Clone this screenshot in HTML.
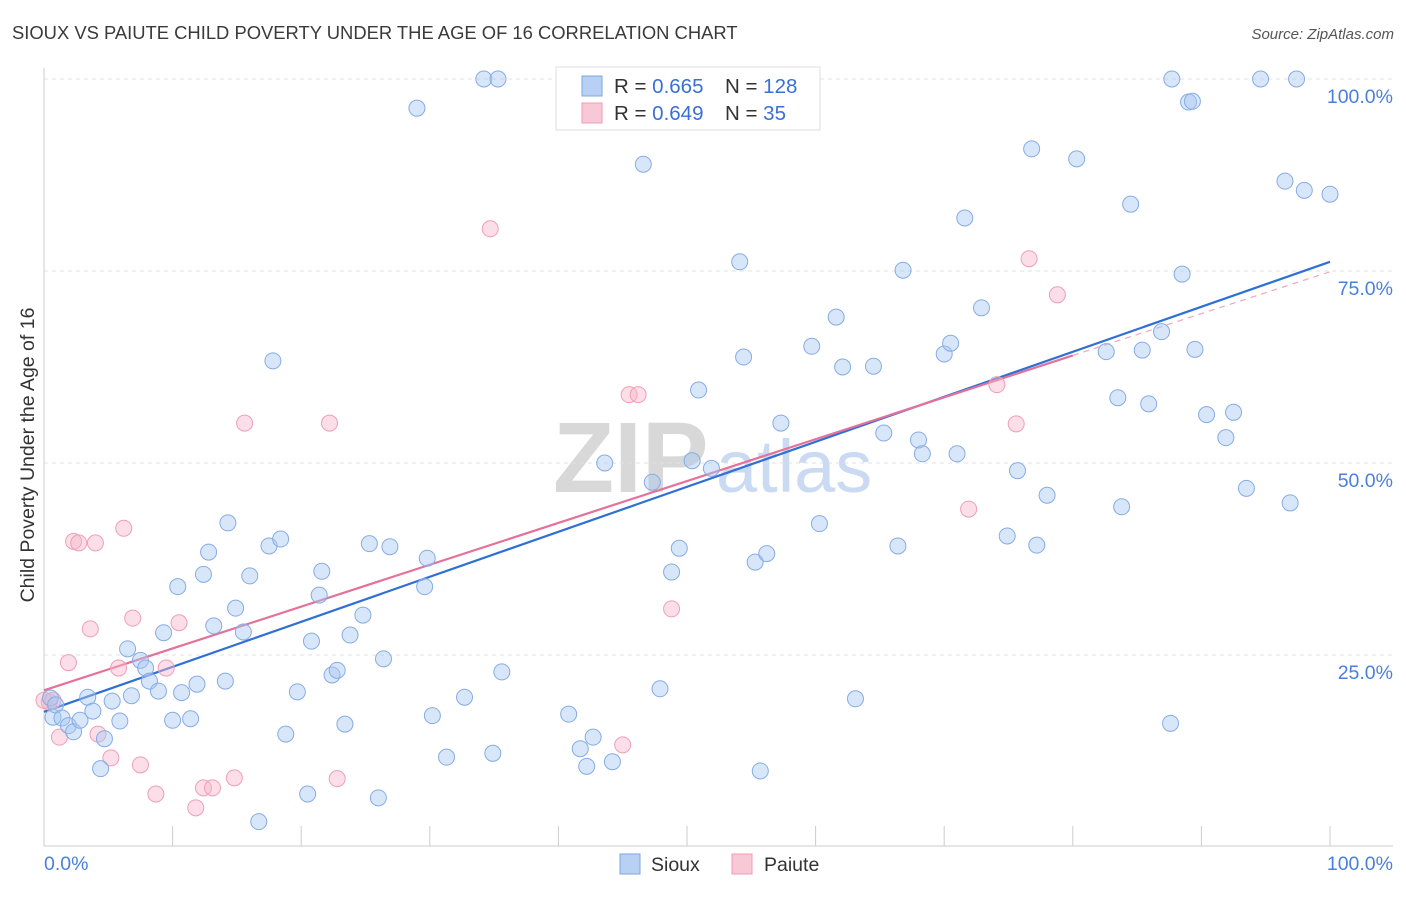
<!DOCTYPE html>
<html><head><meta charset="utf-8"><style>
body{margin:0;background:#fff;font-family:"Liberation Sans",sans-serif;}
svg text{font-family:"Liberation Sans",sans-serif;}
</style></head><body>
<svg id="c" width="1406" height="892" xmlns="http://www.w3.org/2000/svg">
<text x="12" y="39" font-size="18.4" fill="#3a3a3a">SIOUX VS PAIUTE CHILD POVERTY UNDER THE AGE OF 16 CORRELATION CHART</text>
<text x="1394" y="39" font-size="15" fill="#555" text-anchor="end" font-style="italic">Source: ZipAtlas.com</text>
<g>
<text x="553" y="492" font-size="100" font-family="Liberation Serif, serif" fill="#d8d8d8" font-weight="bold">ZIP</text>
<text x="716" y="492" font-size="74" fill="#c9daf2">atlas</text>
</g>
<g id="grid"></g>
<g id="axes"></g>
<g id="lines"></g>
<g id="pts"></g>
<text transform="translate(34,455) rotate(-90)" font-size="19.5" fill="#333" text-anchor="middle">Child Poverty Under the Age of 16</text>
<g>
<rect x="556" y="67" width="264" height="63" fill="#fff" stroke="#ddd"/>
<rect x="582" y="76" width="20" height="20" fill="#b8d0f4" stroke="#7fa6e0"/>
<rect x="582" y="103" width="20" height="20" fill="#f9c8d6" stroke="#ee9bb4"/>
<text x="614" y="93" font-size="20.5" fill="#333">R = <tspan fill="#3a6fd8">0.665</tspan></text>
<text x="725" y="93" font-size="20.5" fill="#333">N = <tspan fill="#3a6fd8">128</tspan></text>
<text x="614" y="120" font-size="20.5" fill="#333">R = <tspan fill="#3a6fd8">0.649</tspan></text>
<text x="725" y="120" font-size="20.5" fill="#333">N = <tspan fill="#3a6fd8"> 35</tspan></text>
</g>
<g>
<rect x="620" y="854" width="20" height="20" fill="#b8d0f4" stroke="#7fa6e0"/>
<text x="651" y="871" font-size="19.5" fill="#333">Sioux</text>
<rect x="732" y="854" width="20" height="20" fill="#f9c8d6" stroke="#ee9bb4"/>
<text x="764" y="871" font-size="19.5" fill="#333">Paiute</text>
</g>
</svg>
<script>
const siouxX=[0.5,0.7,0.9,1.4,1.9,2.3,2.8,3.4,3.8,4.4,4.7,5.3,5.9,6.5,6.8,7.5,7.9,8.2,8.9,9.3,10.0,10.4,10.7,11.4,11.9,12.4,12.8,13.2,14.1,14.3,14.9,15.5,16.0,16.7,17.5,17.8,18.4,18.8,19.7,20.5,20.8,21.4,21.6,22.4,22.8,23.4,23.8,24.8,25.3,26.0,26.4,26.9,29.0,29.6,29.8,30.2,31.3,32.7,34.2,34.9,35.3,35.6,40.8,41.7,42.2,42.7,43.6,44.2,46.6,47.3,47.9,48.8,49.4,50.4,50.9,51.9,54.1,54.4,55.3,55.7,56.2,57.3,59.7,60.3,61.6,62.1,63.1,64.5,65.3,66.4,66.8,68.0,68.3,70.0,70.5,71.0,71.6,72.9,74.9,75.7,76.8,77.2,78.0,80.3,82.6,83.5,83.8,84.5,85.4,85.9,86.9,87.6,87.7,88.5,89.0,89.3,89.5,90.4,91.9,92.5,93.5,94.6,96.5,96.9,97.4,98.0,100,43.5];
const siouxY=[19.4,16.9,18.5,16.8,15.8,15.0,16.5,19.5,17.7,10.2,14.1,19.0,16.4,25.8,19.7,24.3,23.3,21.6,20.3,27.9,16.5,33.9,20.1,16.7,21.2,35.5,38.4,28.8,21.6,42.2,31.1,28.0,35.3,3.3,39.2,63.3,40.1,14.7,20.2,6.9,26.8,32.8,35.9,22.4,23.0,16.0,27.6,30.2,39.5,6.4,24.5,39.1,96.2,33.9,37.6,17.1,11.7,19.5,100,12.2,100,22.8,17.3,12.8,10.5,14.3,50.0,11.1,88.9,47.5,20.6,35.8,38.9,50.3,59.5,49.3,76.2,63.8,37.1,9.9,38.2,55.2,65.2,42.1,69.0,62.5,19.3,62.6,53.9,39.2,75.1,53.0,51.2,64.2,65.6,51.2,81.9,70.2,40.5,49.0,90.9,39.3,45.8,89.6,64.5,58.5,44.3,83.7,64.7,57.7,67.1,16.1,100,74.6,97.0,97.1,64.8,56.3,53.3,56.6,46.7,100,86.7,44.8,100,85.5,85.0,100];
const paiuteX=[0.4,1.2,1.9,2.3,2.7,3.6,4.0,4.2,5.2,5.8,6.2,6.9,7.5,8.7,9.5,10.5,11.8,12.4,13.1,14.8,15.6,22.2,22.8,34.7,45.0,45.5,46.2,48.8,71.9,74.1,75.6,76.6,78.8,0,0.7];
const paiuteY=[18.9,14.3,24.0,39.8,39.6,28.4,39.6,14.7,11.6,23.3,41.5,29.8,10.7,6.9,23.3,29.2,5.1,7.7,7.7,9.0,55.2,55.2,8.9,80.5,13.3,58.9,58.9,31.0,44.0,60.2,55.1,76.6,71.9,19.1,19.1];
const siouxTrend=[17.6,76.2];   // value at x=0, x=100
const paiuteTrend=[20.4,74.9];
const paiuteSolidEnd=80;
const yTicks=[25,50,75,100];
const yTickLabels=["25.0%","50.0%","75.0%","100.0%"];
const xTicks=[0,10,20,30,40,50,60,70,80,90,100];

const NS="http://www.w3.org/2000/svg";
const X=v=>44+v*12.86, Y=v=>847-v*7.68;
function mk(parent,tag,attrs){const e=document.createElementNS(NS,tag);for(const k in attrs)e.setAttribute(k,attrs[k]);document.getElementById(parent).appendChild(e);return e;}
yTicks.forEach((t,i)=>{
 const l=mk('grid','line',{x1:44,x2:1393,y1:Y(t),y2:Y(t),stroke:'#e0e0e0','stroke-dasharray':'4,4'});
 
 
 const tx=mk('axes','text',{x:1393,y:Y(t)+24,'font-size':19.5,fill:'#4a7fdc','text-anchor':'end'});
 tx.textContent=yTickLabels[i];
 
 
});
const ax=mk('axes','line',{x1:44,x2:1393,y1:846,y2:846,stroke:'#ccc'});


const ay=mk('axes','line',{x1:44,x2:44,y1:68,y2:846,stroke:'#ccc'});


xTicks.forEach(t=>{
 const l=mk('axes','line',{x1:X(t),x2:X(t),y1:826,y2:846,stroke:'#ccc'});
 
 
});
const xl0=mk('axes','text',{x:44,y:870,'font-size':19.5,fill:'#4a7fdc'});xl0.textContent='0.0%';


const xl1=mk('axes','text',{x:1393,y:870,'font-size':19.5,fill:'#4a7fdc','text-anchor':'end'});xl1.textContent='100.0%';



function dot(x,y,fill,stroke,name){
 const c=mk('pts','circle',{cx:X(x),cy:Y(y),r:8,fill:fill,stroke:stroke,'stroke-width':1});
 
 
}
paiuteX.forEach((x,i)=>dot(x,paiuteY[i],'rgba(246,182,202,0.45)','#ef9fb8','paiute-point'));
siouxX.forEach((x,i)=>dot(x,siouxY[i],'rgba(168,200,242,0.45)','#86ace4','sioux-point'));

const pAt=v=>paiuteTrend[0]+(paiuteTrend[1]-paiuteTrend[0])*v/100;
const pd=mk('lines','line',{x1:X(paiuteSolidEnd),y1:Y(pAt(paiuteSolidEnd)),x2:X(100),y2:Y(pAt(100)),stroke:'#f0a6bd','stroke-width':1.2,'stroke-dasharray':'6,5'});


const sl=mk('lines','line',{x1:X(0),y1:Y(siouxTrend[0]),x2:X(100),y2:Y(siouxTrend[1]),stroke:'#2f6fd6','stroke-width':2.2});


const pl=mk('lines','line',{x1:X(0),y1:Y(pAt(0)),x2:X(paiuteSolidEnd),y2:Y(pAt(paiuteSolidEnd)),stroke:'#e5719a','stroke-width':2.2});


</script>
</body></html>
